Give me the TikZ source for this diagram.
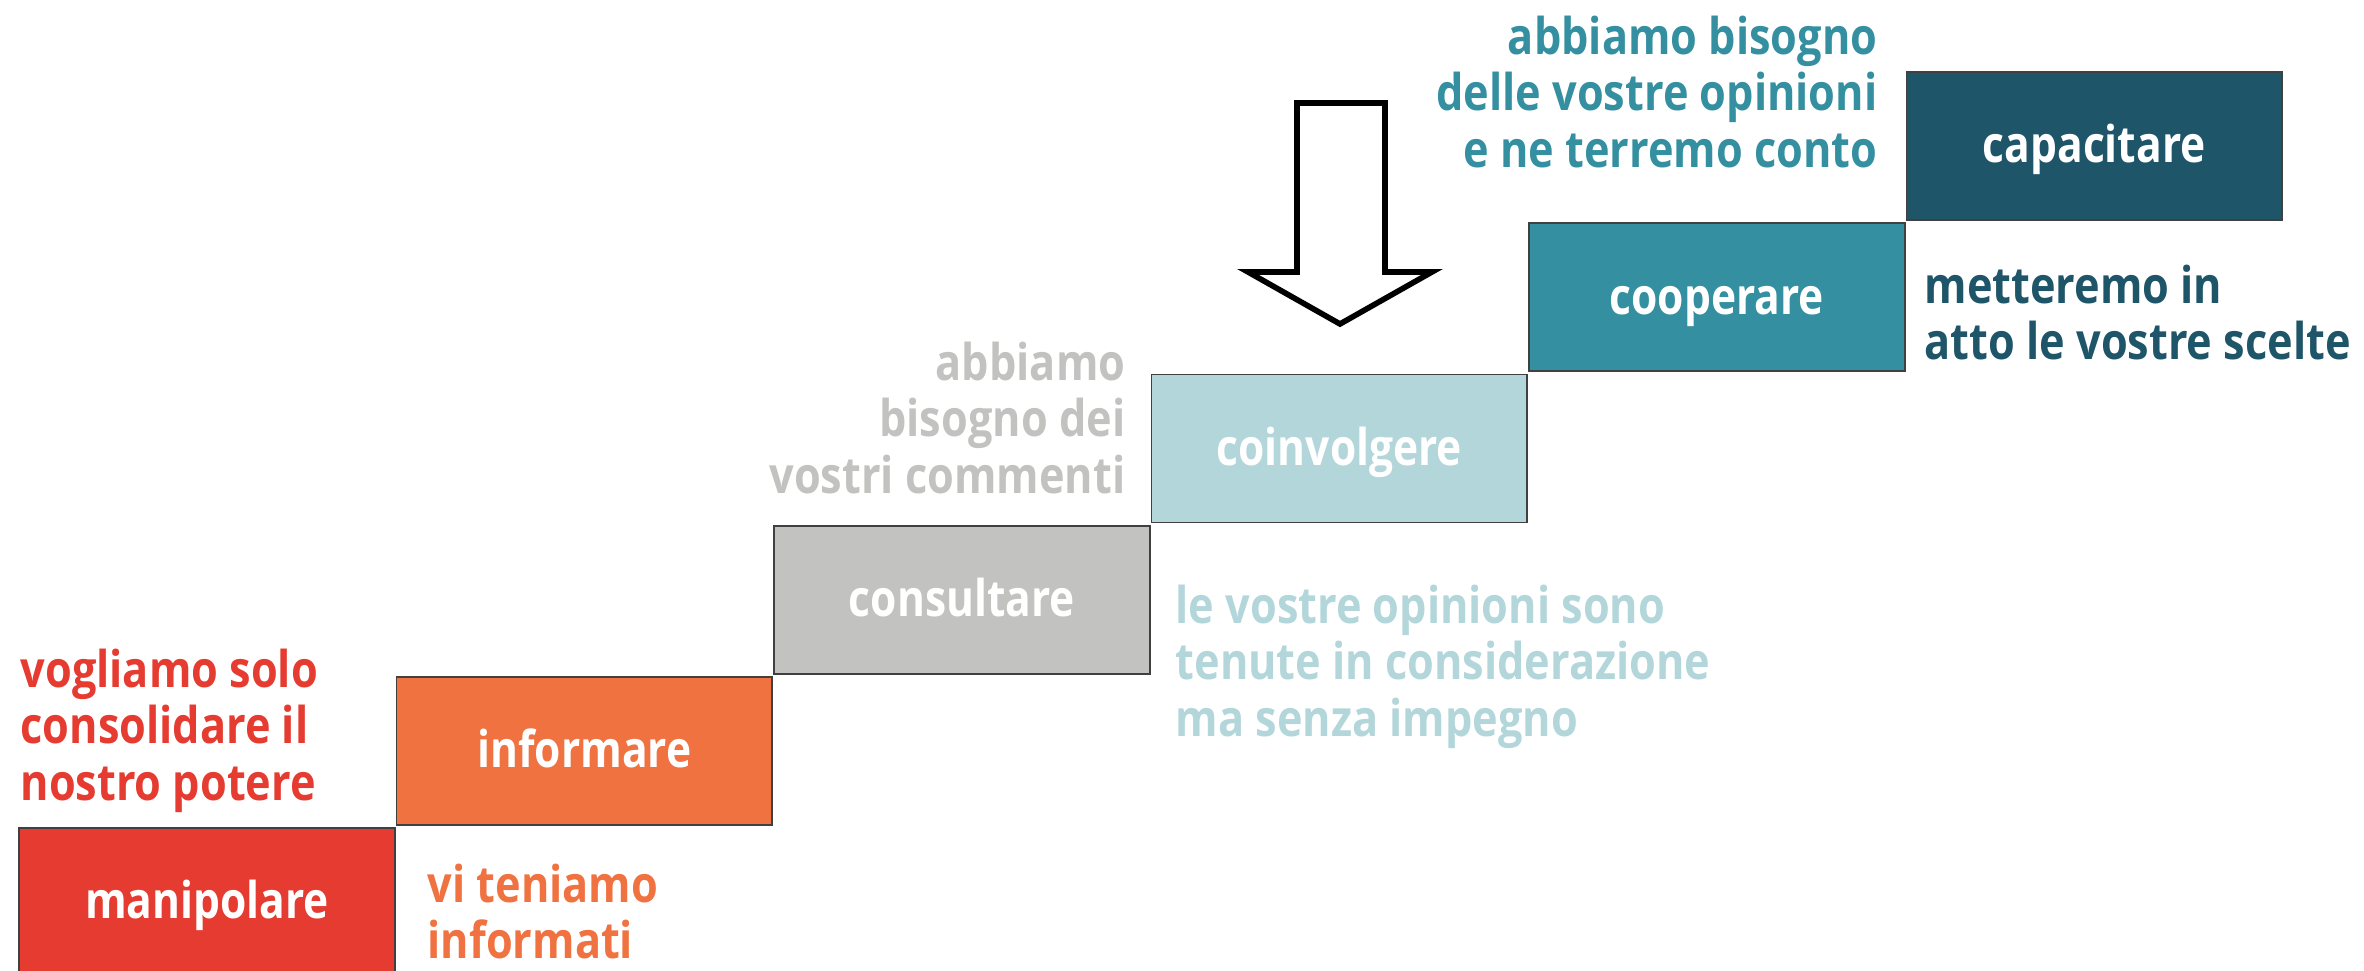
\documentclass[tikz,border=0pt]{standalone}
\usepackage{fontspec}
\newfontfamily\stapfont{Open Sans}[FakeStretch=0.84]
\newfontfamily\notafont{Open Sans}[FakeStretch=0.855]
\usetikzlibrary{positioning}

\definecolor{rood}{HTML}{E53B30}
\definecolor{oranje}{HTML}{EF7240}
\definecolor{grijs}{HTML}{C2C2C1}
\definecolor{lichtblauw}{HTML}{B3D6DA}
\definecolor{blauwgroen}{HTML}{348FA0}
\definecolor{donkerblauw}{HTML}{1E5568}

\tikzset{
  trede/.style={draw=black!75, line width=0.5pt, minimum width=3.757cm, minimum height=1.48cm,
    inner sep=0pt, text height=0.95em, text depth=0em, text=white,
    font=\stapfont\bfseries\fontsize{14.4pt}{16.1pt}\selectfont},
  nota/.style={inner sep=0pt, font=\notafont\bfseries\fontsize{14.4pt}{16.1pt}\selectfont}
}

\begin{document}
\begin{tikzpicture}
  \useasboundingbox (0,0) rectangle (23.64,9.71);

  % de trap
  \node[trede, fill=rood] (man) at (2.07,0.69) {manipolare};
  \node[trede, fill=oranje, above right=0.014cm and 0cm of man] (inf) {informare};
  \node[trede, fill=grijs, above right=0.014cm and 0cm of inf] (con) {consultare};
  \node[trede, fill=lichtblauw, above right=0.014cm and 0cm of con] (coi) {coinvolgere};
  \node[trede, fill=blauwgroen, above right=0.014cm and 0cm of coi] (coo) {cooperare};
  \node[trede, fill=donkerblauw, above right=0.014cm and 0cm of coo] (cap) {capacitare};

  % teksten bij de treden
  \node[nota, align=left, anchor=north west, text=rood] (nman) at (0.20,3.23)
    {vogliamo solo\\consolidare il\\nostro potere};
  \node[nota, align=left, anchor=north west, text=oranje] (ninf) at (4.27,1.08)
    {vi teniamo\\informati};
  \node[nota, align=right, anchor=north east, text=grijs] (ncon) at (11.26,6.30)
    {abbiamo\\bisogno dei\\vostri commenti};
  \node[nota, align=left, anchor=north west, text=lichtblauw] (ncoi) at (11.75,3.87)
    {le vostre opinioni sono\\tenute in considerazione\\ma senza impegno};
  \node[nota, align=right, anchor=north east, text=blauwgroen] (ncoo) at (18.78,9.56)
    {abbiamo bisogno\\delle vostre opinioni\\e ne terremo conto};
  \node[nota, align=left, anchor=north west, text=donkerblauw] (ncap) at (19.24,7.07)
    {metteremo in\\atto le vostre scelte};

  % pijl naar beneden
  \draw[line width=1.6pt, fill=white, line join=miter]
    (12.97,8.68) -- (13.85,8.68) -- (13.85,6.99) -- (14.32,6.99) -- (13.40,6.47)
    -- (12.48,6.99) -- (12.97,6.99) -- cycle;
\end{tikzpicture}
\end{document}
